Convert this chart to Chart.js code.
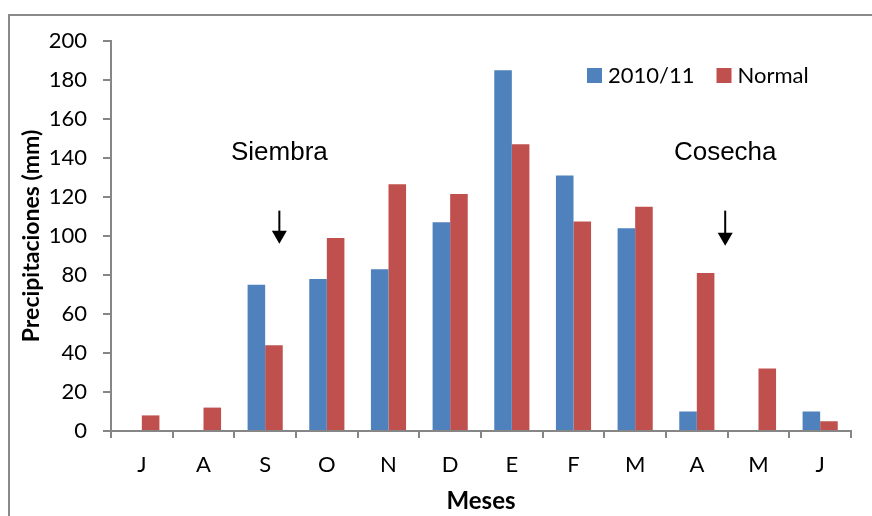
<!DOCTYPE html>
<html>
<head>
<meta charset="utf-8">
<script src="https://cdn.jsdelivr.net/npm/chart.js@4/dist/chart.umd.min.js"></script>
<style>
  html, body { margin: 0; padding: 0; background: #fff; overflow: hidden; }
  #wrap { position: relative; width: 872px; height: 516px; }
  #frame {
    position: absolute; left: 8px; top: 14px; width: 900px; height: 600px;
    border-left: 2px solid #8a8a8a; border-top: 2px solid #8a8a8a;
    pointer-events: none;
  }
</style>
</head>
<body>
<div id="wrap">
  <canvas id="chart-canvas" width="872" height="516"></canvas>
  <div id="frame"></div>
</div>
<script>
//------------------------ DATA ----------------------------

const months = ["J", "A", "S", "O", "N", "D", "E", "F", "M", "A", "M", "J"];
const rain2010 = [0, 0, 75, 78, 83, 107, 185, 131, 104, 10, 0, 10];
const rainNormal = [8, 12, 44, 99, 126.5, 121.5, 147, 107.5, 115, 81, 32, 5];
const yTicks = [0, 20, 40, 60, 80, 100, 120, 140, 160, 180, 200];

// sowing / harvest marks: [label, category index (fractional), text value, arrow top, arrow bottom]
const marks = [
  ["Siembra", 2.23, 142.5, 113, 96],
  ["Cosecha", 9.46, 142.5, 113, 95]
];

const blue = "#4F81BD";
const red = "#C0504D";
const axisGray = "#868686";
const tickFont = { family: "Lato", size: 22 };

//------------------------ PLUGINS ----------------------------

// arrows + text above the bars
const marksPlugin = {
  id: "marks",
  afterDatasetsDraw(chart) {
    const ctx = chart.ctx;
    const xs = chart.scales.x;
    const ys = chart.scales.y;
    const step = xs.getPixelForValue(1) - xs.getPixelForValue(0);
    ctx.save();
    marks.forEach(([label, idx, textVal, topVal, botVal]) => {
      const x = xs.getPixelForValue(0) + idx * step;
      ctx.fillStyle = "#000";
      ctx.font = "26px 'Liberation Sans', Arial, sans-serif";
      ctx.textAlign = "center";
      ctx.textBaseline = "middle";
      ctx.fillText(label, x, ys.getPixelForValue(textVal));

      const yTop = ys.getPixelForValue(topVal);
      const yBot = ys.getPixelForValue(botVal);
      ctx.strokeStyle = "#000";
      ctx.lineWidth = 2;
      ctx.beginPath();
      ctx.moveTo(x, yTop);
      ctx.lineTo(x, yBot - 10);
      ctx.stroke();
      ctx.beginPath();
      ctx.moveTo(x - 7.5, yBot - 13);
      ctx.lineTo(x + 7.5, yBot - 13);
      ctx.lineTo(x, yBot);
      ctx.closePath();
      ctx.fill();
    });
    ctx.restore();
  }
};

// legend drawn inside the plot, top right
const legendPlugin = {
  id: "insideLegend",
  afterDraw(chart) {
    const ctx = chart.ctx;
    const area = chart.chartArea;
    let x = area.left + 476;
    const y = area.top + 34;
    ctx.save();
    ctx.font = "22px Lato";
    ctx.textBaseline = "middle";
    ctx.textAlign = "left";
    chart.data.datasets.forEach((ds) => {
      ctx.fillStyle = ds.backgroundColor;
      ctx.fillRect(x, y - 7, 15, 15);
      ctx.fillStyle = "#000";
      ctx.fillText(ds.label, x + 21, y + 1);
      x += 21 + ctx.measureText(ds.label).width + 22;
    });
    ctx.restore();
  }
};

//------------------------ CHART ----------------------------

const ctx = document.getElementById("chart-canvas").getContext("2d");
const myChart = new Chart(ctx, {
  type: "bar",
  data: {
    labels: months,
    datasets: [
      {
        label: "2010/11",
        data: rain2010,
        backgroundColor: blue,
        categoryPercentage: 0.57,
        barPercentage: 1.0,
      },
      {
        label: "Normal",
        data: rainNormal,
        backgroundColor: red,
        categoryPercentage: 0.57,
        barPercentage: 1.0,
      },
    ],
  },
  options: {
    responsive: false,
    animation: false,
    devicePixelRatio: 1,
    layout: {
      padding: { top: 41, right: 21, left: 0, bottom: 0 },
    },
    plugins: {
      legend: { display: false },
      tooltip: { enabled: false },
    },
    scales: {
      x: {
        grid: {
          offset: true,
          drawOnChartArea: false,
          color: axisGray,
          lineWidth: 2,
          tickLength: 7,
        },
        border: { color: axisGray, width: 2 },
        ticks: { color: "#000", font: tickFont, padding: 14, maxRotation: 0 },
        title: {
          display: true,
          text: "Meses",
          color: "#000",
          font: { family: "Lato", size: 24, weight: "bold" },
          padding: { top: 0, bottom: 0 },
        },
        afterFit(scale) {
          scale.height = 85;
        },
      },
      y: {
        min: 0,
        max: 200,
        afterBuildTicks(scale) {
          scale.ticks = yTicks.map((v) => ({ value: v }));
        },
        grid: {
          drawOnChartArea: false,
          color: axisGray,
          lineWidth: 2,
          tickLength: 8,
        },
        border: { color: axisGray, width: 2 },
        ticks: { color: "#000", font: tickFont, padding: 16 },
        title: {
          display: true,
          text: "Precipitaciones (mm)",
          color: "#000",
          font: { family: "Lato", size: 23, weight: "bold" },
          padding: { top: 18, bottom: 0 },
        },
        afterFit(scale) {
          scale.width = 111;
        },
      },
    },
  },
  plugins: [marksPlugin, legendPlugin],
});
</script>
</body>
</html>
